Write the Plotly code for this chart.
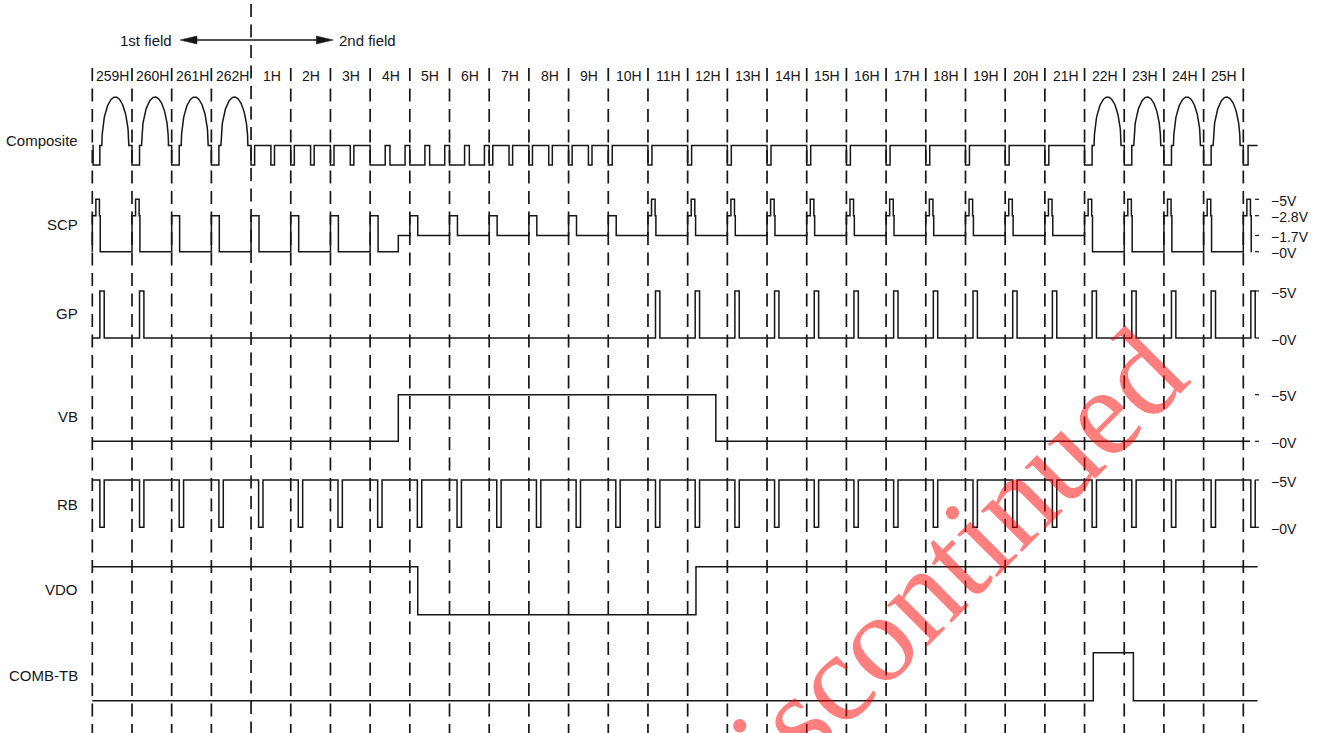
import numpy as np
import plotly.graph_objects as go

# ---------------------------------------------------------------- data
H_LABELS = ["259H", "260H", "261H", "262H", "1H", "2H", "3H", "4H", "5H", "6H",
            "7H", "8H", "9H", "10H", "11H", "12H", "13H", "14H", "15H", "16H",
            "17H", "18H", "19H", "20H", "21H", "22H", "23H", "24H", "25H"]

# composite video: kind of each horizontal line
# V = picture line with sync, EQ = equalizing pulses, VS = vertical sync (serrated), H = blank line with H-sync
COMPOSITE_KIND = ["V", "V", "V", "V", "EQ", "EQ", "EQ", "VS", "VS", "VS", "EQ", "EQ", "EQ",
                  "H", "H", "H", "H", "H", "H", "H", "H", "H", "H", "H", "H",
                  "V", "V", "V", "V"]
COMPOSITE_IRE = {"sync": -40, "blank": 0, "peak": 100}

# sandcastle pulse: lines with 5V burst spike, baseline voltage after each line's pulse
SCP_SPIKE_LINES = [0, 1, 14, 15, 16, 17, 18, 19, 20, 21, 22, 23, 24, 25, 26, 27, 28, 29]
SCP_BASE_V = [0, 0, 0, 0, 0, 0, 0, 0, 1.7, 1.7, 1.7, 1.7, 1.7, 1.7, 1.7, 1.7, 1.7,
              1.7, 1.7, 1.7, 1.7, 1.7, 1.7, 1.7, 1.7, 0, 0, 0, 0, 0]
SCP_STEP = (7.71, 1.7)           # step to 1.7 V inside 4H
SCP_TICKS_V = [5.0, 2.8, 1.7, 0.0]
SCP_TICK_TEXT = ["\u22125V", "\u22122.8V", "\u22121.7V", "\u22120V"]

GP_PULSE_LINES = [0, 1, 14, 15, 16, 17, 18, 19, 20, 21, 22, 23, 24, 25, 26, 27, 28, 29]
RB_PULSE_LINES = [0, 1, 2, 3, 4, 5, 6, 7, 8, 9, 10, 11, 12, 13, 14, 15, 16, 17, 18, 19,
                  20, 21, 22, 23, 24, 25, 26, 27, 28, 29]

VB_EDGES = [7.71, 15.71]
VB_LEVELS = [0, 5, 0]
VDO_EDGES = [8.20, 15.21]
VDO_LEVELS = [1, 0, 1]
COMB_EDGES = [25.22, 26.23]
COMB_LEVELS = [0, 1, 0]
FIVE_ZERO_TEXT = ["\u22125V", "\u22120V"]

# pulse timing as fractions of one H period
T_VSYNC = 0.19
T_ARC = (0.24, 0.92)
T_EQ = 0.09
T_HSYNC = 0.10
T_BROAD = 0.38
T_SCP = 0.20
T_SCP_SPIKE = (0.09, 0.18)
T_GATE = (0.19, 0.30)
T_END = {"comp": 29.36, "scp": 29.21, "vb": 29.17, "vdo": 29.36, "comb": 29.36}

# ---------------------------------------------------------------- geometry / style
P_PX = 39.69          # pixels per H
X0_PX = 92.3          # pixel of first line boundary
W, H = 1327, 733


def px2x(px):
    return (px - X0_PX) / P_PX


ROW_MAP = {
    "comp": ([-40, 0, 100], [165.0, 145.5, 97.0]),
    "scp": ([0, 1.7, 2.8, 5.0], [251.7, 235.5, 215.7, 199.3]),
    "gp": ([0, 5], [338.0, 291.0]),
    "vb": ([0, 5], [441.3, 394.7]),
    "rb": ([0, 5], [527.3, 480.0]),
    "vdo": ([0, 1], [614.7, 566.7]),
    "comb": ([0, 1], [700.7, 652.7]),
}
ROW_LABELS = [("Composite", 140), ("SCP", 224), ("GP", 313), ("VB", 416),
              ("RB", 504), ("VDO", 589), ("COMB-TB", 675)]
INK = "#161616"
FONT = "Liberation Sans, Arial, sans-serif"


def to_px(row, v):
    xs, ys = ROW_MAP[row]
    return np.interp(v, xs, ys)


class Wave:
    def __init__(self, t0, v0):
        self.t = [t0]
        self.v = [v0]

    def step(self, t, v):
        self.t += [t, t]
        self.v += [self.v[-1], v]

    def point(self, t, v):
        self.t.append(t)
        self.v.append(v)


# composite
SY, BL, PK = COMPOSITE_IRE["sync"], COMPOSITE_IRE["blank"], COMPOSITE_IRE["peak"]
comp = Wave(0, BL)
for k, kind in enumerate(COMPOSITE_KIND):
    L = k
    if kind == "V":
        comp.step(L + (0.02 if k == 0 else 0.0), SY)
        comp.step(L + T_VSYNC, BL)
        a0, a1 = L + T_ARC[0], L + T_ARC[1]
        u = np.linspace(-1, 1, 81)
        for ui in u:
            comp.point((a0 + a1) / 2 + ui * (a1 - a0) / 2,
                       BL + (PK - BL) * np.sqrt(max(0.0, 1 - ui * ui)))
    elif kind == "EQ":
        for h in (0.0, 0.5):
            comp.step(L + h, SY)
            comp.step(L + h + T_EQ, BL)
    elif kind == "VS":
        for h in (0.0, 0.5):
            comp.step(L + h, SY)
            comp.step(L + h + T_BROAD, BL)
    else:
        comp.step(L, SY)
        comp.step(L + T_HSYNC, BL)
comp.step(len(COMPOSITE_KIND), SY)
comp.step(len(COMPOSITE_KIND) + 0.12, BL)
comp.point(T_END["comp"], BL)

# SCP
scp = Wave(0, 0)
for k, base in enumerate(SCP_BASE_V):
    scp.step(k, 2.8)
    if k in SCP_SPIKE_LINES:
        scp.step(k + T_SCP_SPIKE[0], 5.0)
        scp.step(k + T_SCP_SPIKE[1], 2.8)
    scp.step(k + T_SCP, base)
    if SCP_STEP[0] > k and SCP_STEP[0] < k + 1:
        scp.step(SCP_STEP[0], SCP_STEP[1])
scp.point(T_END["scp"], SCP_BASE_V[-1])

# GP
gp = Wave(0, 0)
for k in GP_PULSE_LINES:
    gp.step(k + T_GATE[0], 5)
    gp.step(k + T_GATE[1], 0)

# RB
rb = Wave(0, 5)
for k in RB_PULSE_LINES:
    rb.step(k + T_GATE[0], 0)
    rb.step(k + T_GATE[1], 5)


def edges_wave(edges, levels, t_end):
    w = Wave(0, levels[0])
    for t, v in zip(edges, levels[1:]):
        w.step(t, v)
    w.point(t_end, levels[-1])
    return w


vb = edges_wave(VB_EDGES, VB_LEVELS, T_END["vb"])
vdo = edges_wave(VDO_EDGES, VDO_LEVELS, T_END["vdo"])
comb = edges_wave(COMB_EDGES, COMB_LEVELS, T_END["comb"])

fig = go.Figure()
for row, w in [("comp", comp), ("scp", scp), ("gp", gp), ("vb", vb),
               ("rb", rb), ("vdo", vdo), ("comb", comb)]:
    fig.add_trace(go.Scatter(x=w.t, y=to_px(row, np.array(w.v, dtype=float)),
                             mode="lines", line=dict(color=INK, width=1.5),
                             hoverinfo="skip", showlegend=False))

shapes = []
n_bound = len(H_LABELS) + 1
for k in range(n_bound):
    y_top = 4 if H_LABELS[k - 1:k] == ["262H"] else 68
    shapes.append(dict(type="line", xref="x", yref="y", x0=k, x1=k, y0=y_top, y1=H,
                       line=dict(color=INK, width=1.7, dash="13px,7.5px"), layer="below"))

# right-hand voltage ticks
tick_x0, tick_x1, text_x = px2x(1255), px2x(1259), px2x(1269)
annotations = []
right_ticks = [("scp", SCP_TICKS_V, SCP_TICK_TEXT), ("gp", [5, 0], FIVE_ZERO_TEXT),
               ("vb", [5, 0], FIVE_ZERO_TEXT), ("rb", [5, 0], FIVE_ZERO_TEXT)]
for row, vals, texts in right_ticks:
    for v, txt in zip(vals, texts):
        yp = float(to_px(row, v))
        shapes.append(dict(type="line", xref="x", yref="y", x0=tick_x0, x1=tick_x1,
                           y0=yp, y1=yp, line=dict(color=INK, width=1.2)))
        annotations.append(dict(x=text_x, y=yp + 1.5, text=txt, showarrow=False,
                                xanchor="left", yanchor="middle",
                                font=dict(family=FONT, size=14, color=INK)))

# H labels
for k, lab in enumerate(H_LABELS):
    annotations.append(dict(x=k + 0.52, y=76, text=lab, showarrow=False,
                            font=dict(family=FONT, size=14, color=INK)))

# row labels
for name, yp in ROW_LABELS:
    annotations.append(dict(x=px2x(80), y=yp, text=name, showarrow=False,
                            xanchor="right", yanchor="middle",
                            font=dict(family=FONT, size=15, color=INK)))

# field arrow
ARROW_Y = 40
left_tip, right_tip = px2x(180), px2x(333.3)
head_len = 17 / P_PX
head_half = 4
shapes.append(dict(type="line", xref="x", yref="y", x0=left_tip + head_len * 0.5,
                   x1=right_tip - head_len * 0.5, y0=ARROW_Y, y1=ARROW_Y,
                   line=dict(color=INK, width=1.5)))
for tip, sgn in [(left_tip, 1), (right_tip, -1)]:
    b = tip + sgn * head_len
    shapes.append(dict(type="path", xref="x", yref="y",
                       path=f"M{tip},{ARROW_Y} L{b},{ARROW_Y - head_half} L{b},{ARROW_Y + head_half} Z",
                       fillcolor=INK, line=dict(color=INK, width=0.5)))
annotations.append(dict(x=px2x(174), y=ARROW_Y, text="1st field", showarrow=False,
                        xanchor="right", yanchor="middle",
                        font=dict(family=FONT, size=15, color=INK)))
annotations.append(dict(x=px2x(336.5), y=ARROW_Y, text="2nd field", showarrow=False,
                        xanchor="left", yanchor="middle",
                        font=dict(family=FONT, size=15, color=INK)))

# watermark
annotations.append(dict(x=px2x(925), y=588, text="Discontinued", showarrow=False,
                        textangle=-45, xanchor="center", yanchor="middle",
                        font=dict(family="Liberation Serif, Times New Roman, serif",
                                  size=126, color="rgba(255,0,0,0.5)")))

fig.update_layout(
    width=W, height=H, margin=dict(l=0, r=0, t=0, b=0),
    paper_bgcolor="white", plot_bgcolor="white",
    xaxis=dict(visible=False, range=[px2x(0), px2x(W)], fixedrange=True),
    yaxis=dict(visible=False, range=[H, 0], fixedrange=True),
    shapes=shapes, annotations=annotations,
)

fig.write_html("out.html", config={"displayModeBar": False},
               post_script="document.body.style.margin='0';document.body.style.overflow='hidden';")
